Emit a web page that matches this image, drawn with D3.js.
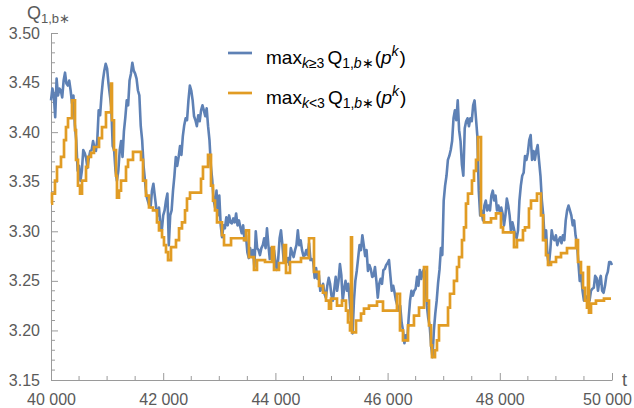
<!DOCTYPE html>
<html><head><meta charset="utf-8">
<script src="https://cdn.jsdelivr.net/npm/d3@7"></script>
<style>
html,body{margin:0;padding:0;background:#fff;}
svg{display:block;font-family:"Liberation Sans",Arial,sans-serif;}
</style></head>
<body>
<svg id="chart" width="634" height="408"></svg>
<script>
// ---- data ----
const xTicks = [40000, 42000, 44000, 46000, 48000, 50000];
const xTickLabels = ["40 000", "42 000", "44 000", "46 000", "48 000", "50 000"];
const yTicks = [3.15, 3.20, 3.25, 3.30, 3.35, 3.40, 3.45, 3.50];
const yTickLabels = ["3.15", "3.20", "3.25", "3.30", "3.35", "3.40", "3.45", "3.50"];
const seriesNames = ["k\u22653", "k<3"];

const blueT = [
40000,40025,40050,40075,40100,40125,40150,40175,40200,40225,40250,40275,40300,40325,40350,40375,40400,40425,40450,40475,
40500,40525,40550,40575,40600,40625,40650,40675,40700,40725,40750,40775,40800,40825,40850,40875,40900,40925,40950,40975,
41000,41025,41050,41075,41100,41125,41150,41175,41200,41225,41250,41275,41300,41325,41350,41375,41400,41425,41450,41475,
41500,41525,41550,41575,41600,41625,41650,41675,41700,41725,41750,41775,41800,41825,41850,41875,41900,41925,41950,41975,
42000,42025,42050,42075,42100,42125,42150,42175,42200,42225,42250,42275,42300,42325,42350,42375,42400,42425,42450,42475,
42500,42525,42550,42575,42600,42625,42650,42675,42700,42725,42750,42775,42800,42825,42850,42875,42900,42925,42950,42975,
43000,43025,43050,43075,43100,43125,43150,43175,43200,43225,43250,43275,43300,43325,43350,43375,43400,43425,43450,43475,
43500,43525,43550,43575,43600,43625,43650,43675,43700,43725,43750,43775,43800,43825,43850,43875,43900,43925,43950,43975,
44000,44025,44050,44075,44100,44125,44150,44175,44200,44225,44250,44275,44300,44325,44350,44375,44400,44425,44450,44475,
44500,44525,44550,44575,44600,44625,44650,44675,44700,44725,44750,44775,44800,44825,44850,44875,44900,44925,44950,44975,
45000,45025,45050,45075,45100,45125,45150,45175,45200,45225,45250,45275,45300,45325,45350,45375,45400,45425,45450,45475,
45500,45525,45550,45575,45600,45625,45650,45675,45700,45725,45750,45775,45800,45825,45850,45875,45900,45925,45950,45975,
46000,46025,46050,46075,46100,46125,46150,46175,46200,46225,46250,46275,46300,46325,46350,46375,46400,46425,46450,46475,
46500,46525,46550,46575,46600,46625,46650,46675,46700,46725,46750,46775,46800,46825,46850,46875,46900,46925,46950,46975,
47000,47025,47050,47075,47100,47125,47150,47175,47200,47225,47250,47275,47300,47325,47350,47375,47400,47425,47450,47475,
47500,47525,47550,47575,47600,47625,47650,47675,47700,47725,47750,47775,47800,47825,47850,47875,47900,47925,47950,47975,
48000,48025,48050,48075,48100,48125,48150,48175,48200,48225,48250,48275,48300,48325,48350,48375,48400,48425,48450,48475,
48500,48525,48550,48575,48600,48625,48650,48675,48700,48725,48750,48775,48800,48825,48850,48875,48900,48925,48950,48975,
49000,49025,49050,49075,49100,49125,49150,49175,49200,49225,49250,49275,49300,49325,49350,49375,49400,49425,49450,49475,
49500,49525,49550,49575,49600,49625,49650,49675,49700,49725,49750,49775,49800,49825,49850,49875,49900,49925,49950,49975,
50000];
const blueV = [
3.432,3.444,3.437,3.415,3.454,3.437,3.444,3.442,3.435,3.452,3.460,3.449,3.447,3.452,3.442,3.429,3.437,3.407,3.392,3.361,
3.366,3.351,3.361,3.382,3.379,3.374,3.364,3.374,3.381,3.382,3.391,3.384,3.381,3.392,3.422,3.417,3.437,3.452,3.462,3.469,
3.464,3.449,3.437,3.425,3.386,3.382,3.361,3.351,3.361,3.382,3.391,3.375,3.401,3.415,3.432,3.427,3.452,3.459,3.470,3.462,
3.459,3.454,3.442,3.437,3.406,3.392,3.366,3.351,3.336,3.331,3.326,3.324,3.341,3.348,3.336,3.324,3.316,3.324,3.306,3.301,
3.316,3.321,3.331,3.338,3.286,3.316,3.321,3.341,3.356,3.375,3.366,3.375,3.386,3.377,3.396,3.407,3.414,3.412,3.432,3.447,
3.442,3.432,3.416,3.412,3.406,3.417,3.411,3.422,3.427,3.422,3.416,3.424,3.406,3.392,3.366,3.351,3.331,3.324,3.341,3.316,
3.336,3.306,3.294,3.306,3.303,3.314,3.306,3.316,3.309,3.308,3.313,3.309,3.318,3.306,3.311,3.304,3.298,3.306,3.291,3.296,
3.279,3.273,3.283,3.276,3.281,3.264,3.300,3.283,3.281,3.276,3.283,3.286,3.293,3.283,3.303,3.286,3.272,3.283,3.275,3.281,
3.270,3.261,3.272,3.293,3.301,3.286,3.269,3.274,3.269,3.273,3.266,3.283,3.278,3.274,3.281,3.286,3.301,3.286,3.291,3.281,
3.275,3.276,3.281,3.276,3.288,3.271,3.272,3.269,3.253,3.263,3.252,3.256,3.240,3.242,3.247,3.237,3.233,3.245,3.253,3.247,
3.235,3.230,3.242,3.254,3.240,3.250,3.267,3.256,3.230,3.242,3.250,3.240,3.247,3.230,3.210,3.197,3.230,3.250,3.260,3.273,
3.286,3.281,3.296,3.286,3.275,3.281,3.260,3.266,3.262,3.254,3.255,3.264,3.250,3.233,3.247,3.252,3.247,3.261,3.262,3.266,
3.268,3.271,3.255,3.240,3.245,3.238,3.230,3.225,3.220,3.225,3.208,3.200,3.187,3.195,3.190,3.212,3.230,3.240,3.235,3.240,
3.242,3.254,3.245,3.261,3.252,3.259,3.262,3.256,3.225,3.212,3.205,3.185,3.173,3.200,3.217,3.230,3.248,3.261,3.283,3.276,
3.331,3.346,3.356,3.372,3.376,3.382,3.391,3.414,3.422,3.412,3.432,3.402,3.391,3.367,3.356,3.404,3.411,3.414,3.406,3.414,
3.411,3.427,3.432,3.414,3.396,3.341,3.316,3.321,3.311,3.326,3.331,3.321,3.326,3.321,3.336,3.341,3.331,3.336,3.321,3.326,
3.319,3.324,3.318,3.306,3.316,3.333,3.326,3.316,3.299,3.309,3.303,3.296,3.293,3.301,3.331,3.346,3.356,3.359,3.376,3.372,
3.379,3.392,3.397,3.372,3.381,3.372,3.381,3.387,3.371,3.356,3.331,3.316,3.291,3.301,3.275,3.266,3.281,3.301,3.293,3.291,
3.296,3.286,3.291,3.294,3.288,3.296,3.291,3.311,3.321,3.326,3.321,3.316,3.306,3.311,3.296,3.288,3.269,3.250,3.256,3.240,
3.230,3.235,3.232,3.235,3.230,3.240,3.242,3.243,3.255,3.253,3.240,3.250,3.255,3.240,3.238,3.245,3.255,3.259,3.269,3.269,
3.266];

const orangeT = [40000,40018,40071,40107,40178,40232,40267,40303,40374,40428,40446,40481,40517,40553,40624,40660,40713,40766,40856,40909,
40980,41070,41087,41123,41159,41176,41212,41248,41337,41373,41462,41604,41640,41693,41747,41818,41889,41925,41979,42014,
42050,42086,42139,42228,42282,42335,42389,42424,42478,42674,42709,42799,42852,42888,42923,42959,43048,43084,43209,43440,
43476,43529,43618,43672,43815,43939,43975,44064,44153,44189,44260,44331,44456,44599,44688,44777,44848,44902,44955,44991,
45098,45187,45258,45294,45330,45348,45365,45437,45526,45579,45668,45811,45918,46167,46221,46274,46364,46470,46560,46649,
46702,46738,46774,46791,46845,46880,46916,47077,47112,47183,47237,47273,47326,47362,47397,47433,47504,47540,47576,47611,
47665,47718,47843,47932,48021,48057,48182,48253,48306,48413,48449,48520,48556,48663,48734,48770,48823,48859,48913,49002,
49091,49198,49358,49394,49447,49483,49518,49554,49572,49590,49626,49714,49857,49982];
const orangeV = [3.328,3.338,3.351,3.365,3.375,3.392,3.405,3.414,3.432,3.402,3.372,3.346,3.338,3.351,3.365,3.375,3.379,3.385,3.394,3.405,
3.420,3.449,3.412,3.382,3.356,3.334,3.341,3.351,3.365,3.372,3.380,3.372,3.351,3.336,3.324,3.321,3.309,3.301,3.294,3.286,
3.279,3.271,3.284,3.291,3.303,3.309,3.321,3.333,3.339,3.353,3.365,3.377,3.346,3.331,3.321,3.309,3.296,3.286,3.293,3.291,
3.301,3.274,3.261,3.271,3.269,3.284,3.261,3.268,3.286,3.258,3.269,3.269,3.273,3.293,3.259,3.245,3.238,3.230,3.222,3.232,
3.225,3.230,3.220,3.208,3.200,3.294,3.198,3.210,3.217,3.222,3.225,3.229,3.220,3.237,3.200,3.190,3.205,3.215,3.223,3.264,
3.230,3.205,3.185,3.173,3.180,3.190,3.205,3.223,3.237,3.250,3.264,3.274,3.291,3.304,3.328,3.338,3.351,3.361,3.372,3.395,
3.316,3.309,3.313,3.318,3.304,3.299,3.299,3.284,3.291,3.301,3.304,3.323,3.331,3.338,3.316,3.291,3.276,3.266,3.269,3.274,
3.278,3.283,3.291,3.269,3.258,3.243,3.230,3.223,3.264,3.218,3.227,3.230,3.232,3.232];

// ---- layout ----
const svg = d3.select("#chart");
const x = d3.scaleLinear().domain([40000, 50000]).range([51, 612]);
const y = d3.scaleLinear().domain([3.15, 3.50]).range([380, 33]);
const axisColor = "#9a9a9a", labelColor = "#5a5a5a";
const blue = "#5e81b5", orange = "#e19c24";

// x axis
const xAxis = d3.axisBottom(x).tickValues(xTicks).tickSizeInner(-7).tickSizeOuter(0)
  .tickPadding(14).tickFormat((d, i) => xTickLabels[i]);
const gx = svg.append("g").attr("transform", `translate(0,${y(3.15)})`).call(xAxis);
const xMinor = d3.range(40500, 50000, 500).filter(v => v % 2000 !== 0);
gx.selectAll(".minor").data(xMinor).enter().append("line").attr("class", "minor")
  .attr("x1", d => x(d)).attr("x2", d => x(d)).attr("y1", 0).attr("y2", -4);

// y axis
const yAxis = d3.axisLeft(y).tickValues(yTicks).tickSizeInner(-7).tickSizeOuter(0)
  .tickPadding(11).tickFormat((d, i) => yTickLabels[i]);
const gy = svg.append("g").attr("transform", `translate(${x(40000)},0)`).call(yAxis);
const yMinor = d3.range(0, 36).map(i => 3.15 + i * 0.01).filter(v => Math.abs(Math.round(v * 20) - v * 20) > 1e-6);
gy.selectAll(".minor").data(yMinor).enter().append("line").attr("class", "minor")
  .attr("x1", 0).attr("x2", 4).attr("y1", d => y(d)).attr("y2", d => y(d));

[gx, gy].forEach(g => {
  g.select(".domain").attr("stroke", axisColor).attr("stroke-width", 1);
  g.selectAll("line").attr("stroke", axisColor).attr("stroke-width", 1);
  g.selectAll("text").attr("fill", labelColor).attr("font-size", 16)
    .attr("font-family", "'Liberation Sans', Arial, sans-serif");
});
// keep the last x label inside the picture
gx.selectAll(".tick text").filter(d => d === 50000).attr("dx", -5);

// axis labels
const yl = svg.append("text").attr("x", 27).attr("y", 19).attr("fill", labelColor)
  .attr("font-size", 18);
yl.append("tspan").text("Q");
yl.append("tspan").attr("font-size", 13).attr("dy", 4).text("1,b\u2217");
svg.append("text").attr("x", 622).attr("y", 386).attr("fill", labelColor)
  .attr("font-size", 18).text("t");

// series
const blueData = blueT.map((t, i) => [t, blueV[i]]);
const orangeData = orangeT.map((t, i) => [t, orangeV[i]]);
svg.append("path").datum(blueData)
  .attr("fill", "none").attr("stroke", blue).attr("stroke-width", 2.6).attr("stroke-linejoin", "round")
  .attr("d", d3.line().x(d => x(d[0])).y(d => y(d[1])));
svg.append("path").datum(orangeData)
  .attr("fill", "none").attr("stroke", orange).attr("stroke-width", 2.7).attr("stroke-linejoin", "miter")
  .attr("d", d3.line().curve(d3.curveStepAfter).x(d => x(d[0])).y(d => y(d[1])));

// legend
const legend = svg.append("g");
[blue, orange].forEach((c, i) => {
  const ly = 53 + i * 40;
  legend.append("line").attr("x1", 228).attr("x2", 252).attr("y1", ly).attr("y2", ly)
    .attr("stroke", c).attr("stroke-width", 2.7);
  const t = legend.append("text").attr("x", 266).attr("y", ly + 11).attr("fill", "#000").attr("font-size", 19);
  t.append("tspan").text("max");
  t.append("tspan").attr("font-size", 14).attr("dy", 4).attr("font-style", "italic").text("k");
  t.append("tspan").attr("font-size", 14).text(seriesNames[i].slice(1));
  t.append("tspan").attr("dy", -4).attr("dx", 3).text("Q");
  t.append("tspan").attr("font-size", 14).attr("dy", 4).text("1,");
  t.append("tspan").attr("font-size", 14).attr("font-style", "italic").text("b");
  t.append("tspan").attr("font-size", 14).text("\u2217");
  t.append("tspan").attr("dy", -4).attr("dx", 1).text("(");
  t.append("tspan").attr("font-style", "italic").text("p");
  t.append("tspan").attr("font-size", 14).attr("font-style", "italic").attr("dy", -8).text("k");
  t.append("tspan").attr("dy", 8).attr("dx", 1).text(")");
});
</script>
</body></html>
